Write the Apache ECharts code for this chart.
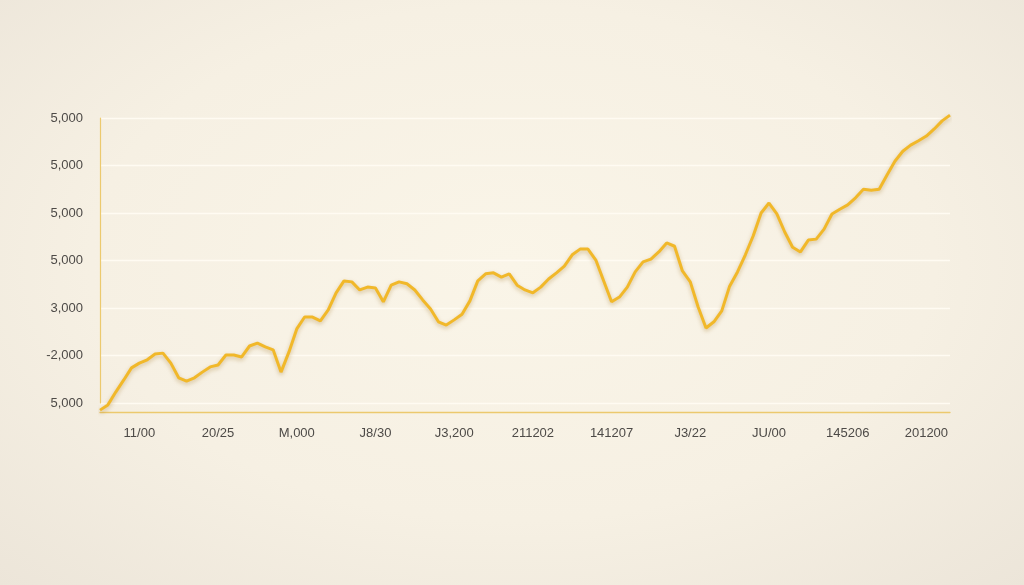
<!DOCTYPE html>
<html>
<head>
<meta charset="utf-8">
<script src="https://cdn.jsdelivr.net/npm/echarts@6/dist/echarts.min.js"></script>
<style>
  html, body { margin: 0; padding: 0; width: 1024px; height: 585px; overflow: hidden; }
  body { background: radial-gradient(ellipse 75% 80% at 50% 45%, #faf5e8 0%, #f6f0e3 55%, #ebe4d8 100%); }
  #chart { width: 1024px; height: 585px; }
</style>
</head>
<body>
<div id="chart"></div>
<script>
// Tick labels as printed on the reference
const yLabels = ['5,000', '-2,000', '3,000', '5,000', '5,000', '5,000', '5,000'];
const xLabels = ['11/00', '20/25', 'M,000', 'J8/30', 'J3,200', '211202', '141207', 'J3/22', 'JU/00', '145206', '201200'];

// Series values (gridline spacing = 1000)
const values = [
  -150, -40, 230, 480, 740, 840, 910, 1030, 1050, 840,
  530, 460, 530, 650, 760, 800, 1010, 1010, 970, 1200,
  1260, 1180, 1120, 650, 1070, 1560, 1810, 1810, 1730, 1960,
  2320, 2570, 2550, 2380, 2440, 2420, 2130, 2480, 2550, 2510,
  2380, 2170, 1980, 1710, 1640, 1750, 1870, 2150, 2570, 2720,
  2740, 2650, 2720, 2480, 2380, 2320, 2440, 2610, 2740, 2880,
  3120, 3240, 3240, 3010, 2570, 2130, 2230, 2440, 2760, 2970,
  3030, 3180, 3370, 3300, 2780, 2550, 2020, 1580, 1710, 1940,
  2460, 2760, 3120, 3520, 4000, 4210, 3980, 3600, 3280, 3180,
  3430, 3450, 3660, 3980, 4080, 4170, 4320, 4500, 4480, 4500,
  4800, 5090, 5300, 5430, 5520, 5620, 5770, 5940, 6060
];

// Category slots; labelled every 10th slot starting at slot 5
const labelStart = 5, labelStep = 10;
const categories = values.map((_, i) =>
  (i >= labelStart && (i - labelStart) % labelStep === 0) ? xLabels[(i - labelStart) / labelStep] : '');

const chart = echarts.init(document.getElementById('chart'), null, { renderer: 'canvas' });
chart.setOption({
  backgroundColor: 'transparent',
  animation: false,
  grid: { left: 100, right: 74, top: 118, bottom: 182 },
  xAxis: {
    type: 'category',
    data: categories,
    boundaryGap: false,
    offset: 9,
    axisLine: { show: true, onZero: false, lineStyle: { color: '#ecc96e', width: 1.3 } },
    axisTick: { show: false },
    splitLine: { show: false },
    axisLabel: {
      interval: 0,
      margin: 15,
      color: '#4d4a47',
      fontSize: 13,
      fontFamily: 'Liberation Sans, Arial, sans-serif'
    }
  },
  yAxis: {
    type: 'value',
    min: 0,
    max: 6000,
    interval: 1000,
    axisLine: { show: true, lineStyle: { color: '#ecc96e', width: 1.2 } },
    axisTick: { show: false },
    splitLine: { show: true, lineStyle: { color: '#fffbf2', width: 1.3 } },
    axisLabel: {
      margin: 17,
      color: '#4d4a47',
      fontSize: 13,
      fontFamily: 'Liberation Sans, Arial, sans-serif',
      formatter: (v) => yLabels[Math.round(v / 1000)] || ''
    }
  },
  series: [{
    type: 'line',
    data: values,
    showSymbol: false,
    clip: false,
    smooth: false,
    lineStyle: {
      color: '#f1b82a',
      width: 3,
      shadowColor: 'rgba(150, 100, 10, 0.35)',
      shadowBlur: 4,
      shadowOffsetY: 2
    }
  }]
});
</script>
</body>
</html>
